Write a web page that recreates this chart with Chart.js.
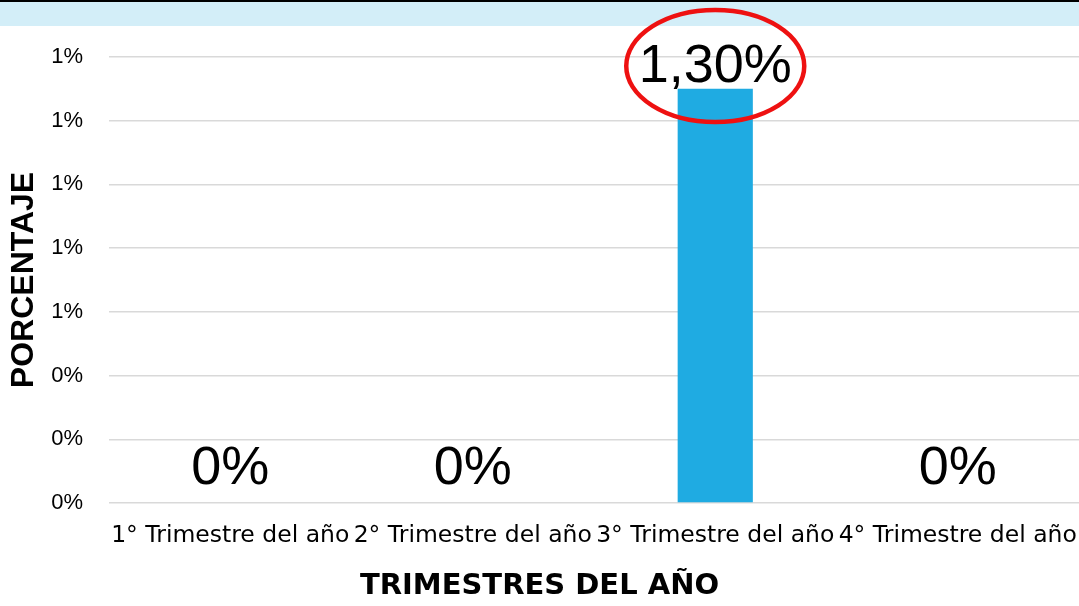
<!DOCTYPE html>
<html>
<head>
<meta charset="utf-8">
<script src="https://cdn.jsdelivr.net/npm/chart.js@4/dist/chart.umd.min.js"></script>
<style>
  html, body { margin: 0; padding: 0; background: #fff; }
  #wrap { width: 1079px; height: 606px; position: relative; }
</style>
</head>
<body>
<div id="wrap"><canvas id="c"></canvas></div>
<script>
// values in percent
const categories = ['1° Trimestre del año', '2° Trimestre del año', '3° Trimestre del año', '4° Trimestre del año'];
const values = [0, 0, 1.30, 0];
const valueLabels = ['0%', '0%', '1,30%', '0%'];
const yTickLabels = ['0%', '0%', '0%', '1%', '1%', '1%', '1%', '1%'];
const highlightIndex = 2;

const SANS = "'Liberation Sans', Arimo, Arial, sans-serif";
const WIDE = "'DejaVu Sans', sans-serif";

// top banner strip + white background
const bannerPlugin = {
  id: 'banner',
  beforeDraw(chart) {
    const { ctx, width, height } = chart;
    ctx.save();
    ctx.fillStyle = '#ffffff';
    ctx.fillRect(0, 0, width, height);
    ctx.fillStyle = '#d3eef8';
    ctx.fillRect(0, 2, width, 24);
    ctx.fillStyle = '#000000';
    ctx.fillRect(0, 0, width, 2);
    ctx.restore();
  },
};

// value labels above bars, red ellipse around the highlighted one
const valueLabelPlugin = {
  id: 'valueLabels',
  afterDatasetsDraw(chart) {
    const { ctx, chartArea } = chart;
    const bars = chart.getDatasetMeta(0).data;
    ctx.save();
    ctx.font = '54px ' + SANS;
    ctx.fillStyle = '#000';
    ctx.textAlign = 'center';
    ctx.textBaseline = 'alphabetic';
    bars.forEach((bar, i) => {
      const baseline = Math.max(bar.y - 19, chartArea.top + 25);
      ctx.fillText(valueLabels[i], bar.x, baseline);
      if (i === highlightIndex) {
        ctx.strokeStyle = '#ee1111';
        ctx.lineWidth = 4.5;
        ctx.beginPath();
        ctx.ellipse(bar.x, baseline - 16, 89, 56, 0, 0, Math.PI * 2);
        ctx.stroke();
      }
    });
    ctx.restore();
  },
};

// bottom title is centred on the whole picture, so it goes in the title plugin
const TITLE_SIZE = 29;
const TITLE_PAD = { top: 0, bottom: 2 };
const titleHeight = TITLE_SIZE * 1.2 + TITLE_PAD.top + TITLE_PAD.bottom;

new Chart(document.getElementById('c'), {
  type: 'bar',
  data: {
    labels: categories,
    datasets: [{
      data: values,
      backgroundColor: '#1fabe2',
      borderWidth: 0,
      barPercentage: 0.31,
      categoryPercentage: 1,
    }],
  },
  options: {
    responsive: true,
    maintainAspectRatio: false,
    animation: false,
    layout: { padding: { top: 57, right: 0, bottom: 0, left: 0 } },
    scales: {
      x: {
        grid: { display: false, drawTicks: false },
        border: { display: false },
        ticks: {
          color: '#000',
          font: { family: WIDE, size: 23.5 },
          autoSkip: false,
          maxRotation: 0,
          minRotation: 0,
          padding: 19,
        },
        afterFit(scale) {
          scale.height = 103 - titleHeight;
          scale.paddingLeft = 0;
          scale.paddingRight = 0;
        },
      },
      y: {
        min: 0,
        max: 1.4,
        grid: { color: '#d9d9d9', lineWidth: 1.5, drawTicks: false },
        border: { display: false },
        ticks: {
          stepSize: 0.2,
          color: '#000',
          font: { family: SANS, size: 22 },
          padding: 26,
          callback: (v, i) => yTickLabels[i],
        },
        title: {
          display: true,
          text: 'PORCENTAJE',
          color: '#000',
          font: { family: SANS, size: 32, weight: 'bold' },
          padding: { top: 5, bottom: 0 },
        },
        afterFit(scale) {
          scale.width = 109;
        },
      },
    },
    plugins: {
      legend: { display: false },
      tooltip: { enabled: false },
      title: {
        display: true,
        position: 'bottom',
        text: 'TRIMESTRES DEL AÑO',
        color: '#000',
        font: { family: WIDE, size: TITLE_SIZE, weight: 'bold', lineHeight: 1.2 },
        padding: TITLE_PAD,
      },
    },
  },
  plugins: [bannerPlugin, valueLabelPlugin],
});
</script>
</body>
</html>
